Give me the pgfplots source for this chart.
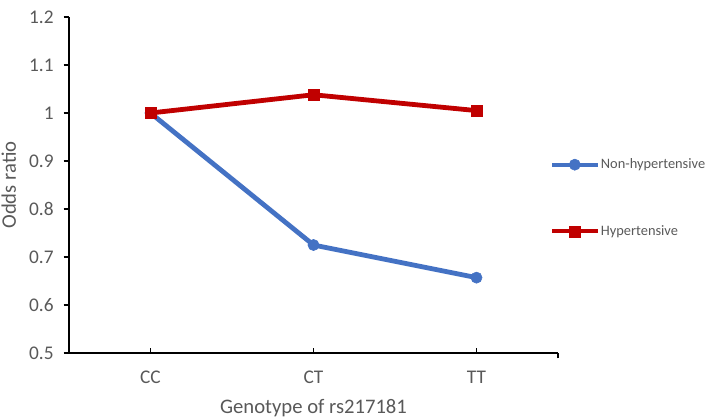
\documentclass[border=0pt]{standalone}
\usepackage{pgfplots}
\pgfplotsset{compat=1.18}
\usepackage{fontspec}
\setmainfont{Carlito}
\definecolor{exblue}{HTML}{4472C4}
\definecolor{exred}{HTML}{C00000}
\definecolor{labgray}{HTML}{595959}

\begin{document}
\begin{tikzpicture}
\path[use as bounding box] (-51.75pt,-50.25pt) rectangle (480pt,264.75pt);
\begin{axis}[
    at={(0,0)}, anchor=south west,
    scale only axis,
    width=366.75pt, height=252pt,
    xmin=-0.5, xmax=2.5, ymin=0.5, ymax=1.2,
    axis lines=left,
    axis line style={-, line width=1.2pt, black},
    xtick={0,1,2}, xticklabels={CC,CT,TT},
    extra x ticks={2.5}, extra x tick labels={},
    extra x tick style={tick align=outside, major tick length=4pt},
    ytick={0.5,0.6,...,1.2},
    yticklabels={0.5,0.6,0.7,0.8,0.9,1,1.1,1.2},
    x tick style={black, line width=1.1pt},
    y tick style={black, line width=1.1pt},
    xtick align=inside,
    ytick align=outside,
    major tick length=4pt,
    tick label style={font=\fontsize{14.5}{17}\selectfont, text=labgray},
    xticklabel style={yshift=-10pt},
    yticklabel style={xshift=-4pt},
    xlabel={Genotype of rs217181},
    ylabel={Odds ratio},
    label style={font=\fontsize{15.5}{18}\selectfont, text=labgray},
    xlabel style={yshift=-1pt},
    ylabel style={yshift=3pt},
    legend style={at={(0.975,0.595)}, anchor=north west, draw=none, fill=none,
        font=\fontsize{10.8}{13}\selectfont, text=labgray, row sep=37pt,
        nodes={inner xsep=1pt}},
    legend cell align=left,
    legend image code/.code={\draw[#1, line width=3pt, mark repeat=2, mark phase=2]
        plot coordinates {(0cm,0cm) (0.6cm,0cm) (1.2cm,0cm)};},
    clip=false,
]
\addplot[exblue, line width=3.6pt, mark=*, mark size=4.2pt, mark options={solid, line width=0.4pt}]
    coordinates {(0,1.0) (1,0.725) (2,0.657)};
\addlegendentry{Non-hypertensive}
\addplot[exred, line width=3.6pt, mark=square*, mark size=4.1pt, mark options={solid, line width=0.4pt}]
    coordinates {(0,1.0) (1,1.038) (2,1.005)};
\addlegendentry{Hypertensive}
\end{axis}
\end{tikzpicture}
\end{document}
